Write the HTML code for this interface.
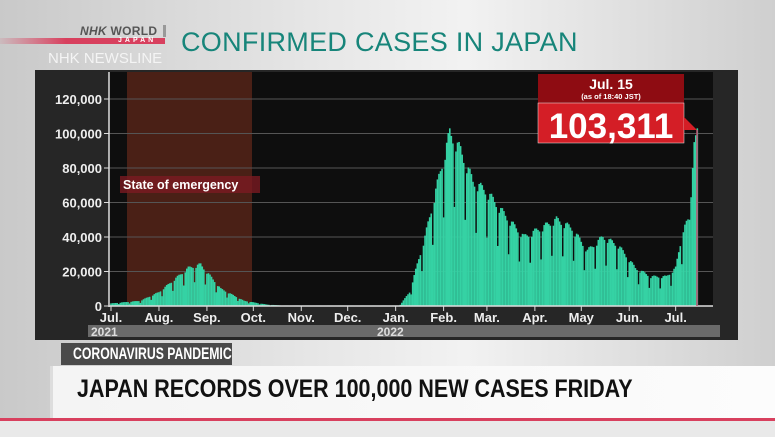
<!DOCTYPE html>
<html><head><meta charset="utf-8"><style>
body{margin:0;width:775px;height:437px;overflow:hidden;position:relative;font-family:"Liberation Sans",sans-serif;background:linear-gradient(90deg,#c9c9c9 0%,#e6e6e6 40%,#f2f2f2 60%,#cfcfcf 100%);}
.a{position:absolute;white-space:nowrap;}
</style></head><body>
<div class="a" style="left:0;top:38px;width:165px;height:6px;background:linear-gradient(90deg,rgba(220,60,90,0.1),#d8405e 40%,#d8405e);"></div>
<div class="a" style="left:80px;top:24px;font:bold italic 12px 'Liberation Sans';color:#555;letter-spacing:0.3px">NHK <span style="font-style:normal">WORLD</span></div>
<div class="a" style="left:118px;top:37px;font:bold 7px 'Liberation Sans';color:#fff;letter-spacing:3px">JAPAN</div>
<div class="a" style="left:163px;top:25px;width:3px;height:12px;background:#999"></div>
<div class="a" style="left:48px;top:50px;font:15px 'Liberation Sans';color:#f4f4f4">NHK NEWSLINE</div>
<div class="a" style="left:181px;top:27px;font:27px 'Liberation Sans';color:#17857a;letter-spacing:0.3px">CONFIRMED CASES IN JAPAN</div>
<div class="a" style="left:35px;top:70px;width:703px;height:270px;background:#262626;"></div>
<svg class="a" style="left:0;top:0" width="775" height="437" id="s">
<rect x="109" y="72" width="604" height="234" fill="#0e0e0e"/>
<rect x="127" y="72" width="125" height="234" fill="#4a2016"/>
<g id="grid" stroke="#555" stroke-width="1"></g>
<g id="bars" fill="#35d2a4"></g>
<line x1="109" y1="72" x2="109" y2="307" stroke="#ddd" stroke-width="1.5"/>
<line x1="109" y1="306" x2="713" y2="306" stroke="#ddd" stroke-width="1.5"/>
<g id="lab" font-family="Liberation Sans" font-weight="bold" font-size="13" fill="#eee"></g>
<rect x="88" y="325" width="632" height="12" fill="#6a6a6a"/>
<text x="91" y="336" font-family="Liberation Sans" font-weight="bold" font-size="12" fill="#ddd">2021</text>
<text x="377" y="336" font-family="Liberation Sans" font-weight="bold" font-size="12" fill="#ddd">2022</text>
<rect x="120" y="176" width="140" height="17" fill="#7a1a22" opacity="0.8"/>
<text x="123" y="189" font-family="Liberation Sans" font-weight="bold" font-size="12.5" fill="#fff">State of emergency</text>
<rect x="538" y="74" width="146" height="29" fill="#8e0c12"/>
<rect x="538" y="103" width="146" height="40" fill="#d41e26" stroke="#eee" stroke-width="0.5"/>
<polygon points="684,117 697,130 684,130" fill="#d41e26"/>
<line x1="697" y1="130" x2="697" y2="306" stroke="#c05070" stroke-width="1.5"/>
<text x="611" y="89" text-anchor="middle" font-family="Liberation Sans" font-weight="bold" font-size="14" fill="#fff">Jul. 15</text>
<text x="611" y="99" text-anchor="middle" font-family="Liberation Sans" font-weight="bold" font-size="7.5" fill="#fff">(as of 18:40 JST)</text>
<text x="611" y="138" text-anchor="middle" font-family="Liberation Sans" font-weight="bold" font-size="35" fill="#fff">103,311</text>
</svg>
<div class="a" style="left:61px;top:343px;width:171px;height:22px;background:#4a4a4a;overflow:hidden"><span style="position:absolute;left:12px;top:2px;font-family:'Liberation Sans';font-weight:bold;font-size:17px;line-height:18px;color:#fff;display:inline-block;transform:scaleX(0.72);transform-origin:left">CORONAVIRUS PANDEMIC</span></div>
<div class="a" style="left:50px;top:366px;width:725px;height:52px;background:linear-gradient(90deg,#f4f4f4,#fcfcfc);border-left:3px solid #ddd"></div>
<div class="a" style="left:77px;top:375px;font:bold 25px 'Liberation Sans';color:#111;transform:scaleX(0.86);transform-origin:left">JAPAN RECORDS OVER 100,000 NEW CASES FRIDAY</div>
<div class="a" style="left:0;top:418px;width:775px;height:3px;background:#d8405e"></div>
<div class="a" style="left:0;top:421px;width:775px;height:16px;background:#e9e9e9"></div>
<script>
var NS="http://www.w3.org/2000/svg";
function el(p,t,a){var e=document.createElementNS(NS,t);for(var k in a)e.setAttribute(k,a[k]);document.getElementById(p).appendChild(e);return e;}
var labs=["0","20,000","40,000","60,000","80,000","100,000","120,000"];
for(var i=0;i<7;i++){var y=306-i*34.5;if(i>0)el("grid","line",{x1:109,y1:y,x2:713,y2:y});
var t=el("lab","text",{x:102,y:y+5,"text-anchor":"end"});t.textContent=labs[i];el("grid","line",{x1:104,y1:y,x2:109,y2:y,stroke:"#ddd"});}
var ms=[["Jul.",0],["Aug.",31],["Sep.",62],["Oct.",92],["Nov.",123],["Dec.",153],["Jan.",184],["Feb.",215],["Mar.",243],["Apr.",274],["May",304],["Jun.",335],["Jul.",365]];
function X(d){return 111+1.547*d;}
ms.forEach(function(m){var x=X(m[1]);el("grid","line",{x1:x,y1:306,x2:x,y2:311,stroke:"#ddd"});var t=el("lab","text",{x:x,y:322,"text-anchor":"middle"});t.textContent=m[0];});
var env=[[0,1.5],[19,3],[31,8],[50,22],[58,24],[71,10],[86,3],[101,0.8],[111,0.3],[186,0.3],[188,2],[193,8],[203,40],[214,82],[219,100],[226,90],[234,72],[243,66],[257,50],[267,40],[278,45],[288,50],[298,45],[308,32],[318,40],[328,35],[339,22],[349,17],[359,17],[365,22],[370,45],[374,50],[377,95],[379,103]];
function E(d){for(var i=0;i<env.length-1;i++){if(d<=env[i+1][0]){var a=env[i],b=env[i+1];return a[1]+(b[1]-a[1])*(d-a[0])/(b[0]-a[0]);}}return 0;}
var wk=[1.03,1.0,0.97,0.6,0.95,1.02,1.04];
for(var d=0;d<=379;d++){var v=E(d)*(d>=376?1:wk[(d+7*100-379+6)%7]);var h=v*34.5/20;
el("bars","rect",{x:X(d)-0.8,y:306-h,width:1.6,height:h});}
</script>
</body></html>
